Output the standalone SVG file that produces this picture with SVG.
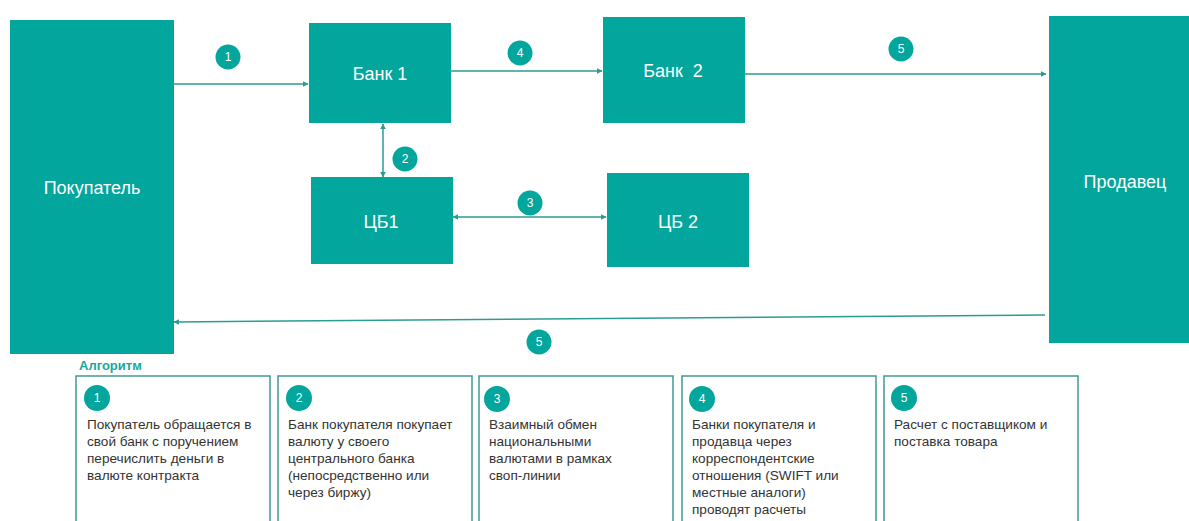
<svg xmlns="http://www.w3.org/2000/svg" width="1189" height="521" viewBox="0 0 1189 521">
<style>
.node{fill:#02A69C;}
.nt{font-family:"Liberation Sans",Arial,sans-serif;font-size:18px;fill:#ffffff;text-anchor:middle;dominant-baseline:central;}
.conn{stroke:#2A9D93;stroke-width:1.5;fill:none;}
.badge{fill:#02A69C;}
.bt{font-family:"Liberation Sans",Arial,sans-serif;font-size:12px;fill:#ffffff;text-anchor:middle;dominant-baseline:central;}
.card{fill:#ffffff;stroke:#3F9A93;stroke-width:1.5;}
.ct{font-family:"Liberation Sans",Arial,sans-serif;font-size:13.6px;fill:#333333;}
.title{font-family:"Liberation Sans",Arial,sans-serif;font-size:13px;font-weight:bold;fill:#1AA79C;}
</style>
<defs>
<marker id="ah" viewBox="0 0 10 10" refX="9" refY="5" markerWidth="6" markerHeight="6" orient="auto-start-reverse" markerUnits="userSpaceOnUse">
<path d="M0,0 L10,5 L0,10 z" fill="#2A9D93"/>
</marker>
</defs>

<g id="connectors">
<line class="conn" x1="174" y1="84" x2="308" y2="84" marker-end="url(#ah)"/>
<line class="conn" x1="451" y1="71" x2="602" y2="71" marker-end="url(#ah)"/>
<line class="conn" x1="383" y1="124" x2="383" y2="177" marker-start="url(#ah)" marker-end="url(#ah)"/>
<line class="conn" x1="453" y1="217" x2="606" y2="217" marker-start="url(#ah)" marker-end="url(#ah)"/>
<line class="conn" x1="745" y1="74" x2="1046" y2="74" marker-end="url(#ah)"/>
<line class="conn" x1="1045" y1="315" x2="174" y2="322" marker-end="url(#ah)"/>
<g id="badges">
<circle class="badge" cx="228" cy="57" r="12.5"/><text class="bt" x="228" y="57">1</text>
<circle class="badge" cx="520" cy="53" r="12.5"/><text class="bt" x="520" y="53">4</text>
<circle class="badge" cx="405" cy="159" r="12.5"/><text class="bt" x="405" y="159">2</text>
<circle class="badge" cx="530" cy="203" r="12.5"/><text class="bt" x="530" y="203">3</text>
<circle class="badge" cx="901" cy="49" r="12.5"/><text class="bt" x="901" y="49">5</text>
<circle class="badge" cx="539" cy="342" r="12.5"/><text class="bt" x="539" y="342">5</text>
</g>
</g>

<g id="buyer"><rect class="node" x="10" y="20" width="164" height="334"/><text class="nt" x="92" y="188">Покупатель</text></g>
<g id="bank1"><rect class="node" x="309" y="23" width="142" height="100"/><text class="nt" x="380" y="74">Банк 1</text></g>
<g id="bank2"><rect class="node" x="603" y="17" width="142" height="106"/><text class="nt" x="673" y="71" xml:space="preserve">Банк  2</text></g>
<g id="cb1"><rect class="node" x="311" y="177" width="142" height="87"/><text class="nt" x="381" y="222">ЦБ1</text></g>
<g id="cb2"><rect class="node" x="607" y="173" width="142" height="94"/><text class="nt" x="678" y="222">ЦБ 2</text></g>
<g id="seller"><rect class="node" x="1049" y="16" width="140" height="327"/><text class="nt" x="1125" y="182">Продавец</text></g>

<g id="algorithm">
<text class="title" x="79" y="370">Алгоритм</text>
<g id="step1">
<rect class="card" x="76" y="376" width="194" height="160"/>
<circle class="badge" cx="97" cy="398" r="13"/><text class="bt" x="97" y="398">1</text>
<text class="ct"><tspan x="87" y="429">Покупатель обращается в</tspan><tspan x="87" y="446">свой банк с поручением</tspan><tspan x="87" y="463">перечислить деньги в</tspan><tspan x="87" y="480">валюте контракта</tspan></text>
</g>
<g id="step2">
<rect class="card" x="278" y="376" width="194" height="160"/>
<circle class="badge" cx="299" cy="398" r="13"/><text class="bt" x="299" y="398">2</text>
<text class="ct"><tspan x="288" y="429">Банк покупателя покупает</tspan><tspan x="288" y="446">валюту у своего</tspan><tspan x="288" y="463">центрального банка</tspan><tspan x="288" y="480">(непосредственно или</tspan><tspan x="288" y="497">через биржу)</tspan></text>
</g>
<g id="step3">
<rect class="card" x="479" y="376" width="194" height="160"/>
<circle class="badge" cx="497" cy="399" r="13"/><text class="bt" x="497" y="399">3</text>
<text class="ct"><tspan x="489" y="429">Взаимный обмен</tspan><tspan x="489" y="446">национальными</tspan><tspan x="489" y="463">валютами в рамках</tspan><tspan x="489" y="480">своп-линии</tspan></text>
</g>
<g id="step4">
<rect class="card" x="682" y="376" width="194" height="160"/>
<circle class="badge" cx="702" cy="399" r="13"/><text class="bt" x="702" y="399">4</text>
<text class="ct"><tspan x="692" y="429">Банки покупателя и</tspan><tspan x="692" y="446">продавца через</tspan><tspan x="692" y="463">корреспондентские</tspan><tspan x="692" y="480">отношения (SWIFT или</tspan><tspan x="692" y="497">местные аналоги)</tspan><tspan x="692" y="514">проводят расчеты</tspan></text>
</g>
<g id="step5">
<rect class="card" x="884" y="376" width="194" height="160"/>
<circle class="badge" cx="904" cy="398" r="13"/><text class="bt" x="904" y="398">5</text>
<text class="ct"><tspan x="894" y="429">Расчет с поставщиком и</tspan><tspan x="894" y="446">поставка товара</tspan></text>
</g>
</g>
</svg>
